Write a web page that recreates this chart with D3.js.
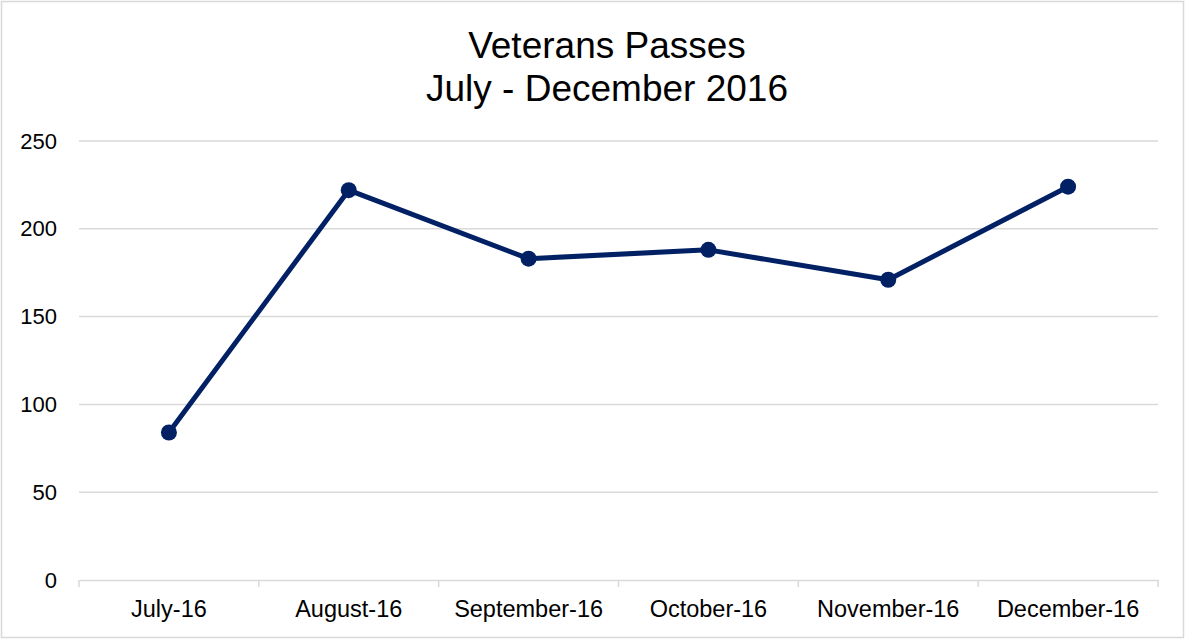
<!DOCTYPE html>
<html>
<head>
<meta charset="utf-8">
<script src="https://cdn.jsdelivr.net/npm/d3@7"></script>
<style>
  body { margin: 0; background: #fff; }
  text { font-family: "Liberation Sans", Arial, sans-serif; fill: #000; }
</style>
</head>
<body>
<script>
var months = ["July-16", "August-16", "September-16", "October-16", "November-16", "December-16"];
var passes = [84, 222, 183, 188, 171, 224];
var yTicks = [0, 50, 100, 150, 200, 250];
var titleLines = ["Veterans Passes", "July - December 2016"];

var W = 1185, H = 639;
var margin = {top: 141, right: 27, bottom: 59, left: 79},
    width = W - margin.left - margin.right,
    height = H - margin.top - margin.bottom;

var svg = d3.select("body").append("svg")
  .attr("width", W)
  .attr("height", H);

// chart border
svg.append("rect")
  .attr("x", 1.5).attr("y", 1.5)
  .attr("width", W - 3).attr("height", H - 3)
  .attr("fill", "#fff")
  .attr("stroke", "#d9d9d9")
  .attr("stroke-width", 1.5);

svg.append("text")
  .attr("text-anchor", "middle")
  .style("font-size", "37px")
  .selectAll("tspan")
  .data(titleLines)
  .enter().append("tspan")
  .attr("x", 607)
  .attr("y", function(d, i) { return 58 + i * 43; })
  .text(function(d) { return d; });

var g = svg.append("g")
  .attr("transform", "translate(" + margin.left + "," + margin.top + ")");

var x = d3.scaleBand().domain(months).range([0, width]);
var y = d3.scaleLinear().domain([0, 250]).range([height, 0]);

// gridlines
g.append("g")
  .selectAll("line")
  .data(yTicks.slice(1))
  .enter().append("line")
  .attr("x1", 0).attr("x2", width)
  .attr("y1", function(d) { return y(d); })
  .attr("y2", function(d) { return y(d); })
  .attr("stroke", "#d9d9d9")
  .attr("stroke-width", 1.5);

// y axis labels
g.append("g")
  .call(d3.axisLeft(y).tickValues(yTicks).tickSize(0).tickPadding(22))
  .call(function(a) { a.select(".domain").remove(); })
  .selectAll("text")
  .style("font-size", "22px");

// x axis
var xa = g.append("g")
  .attr("transform", "translate(0," + height + ")")
  .call(d3.axisBottom(x).tickSize(0).tickPadding(20));
xa.select(".domain").attr("stroke", "#d9d9d9").attr("stroke-width", 1.5);
xa.selectAll("text").style("font-size", "23.5px");
xa.selectAll(".sep")
  .data(d3.range(months.length + 1))
  .enter().append("line")
  .attr("x1", function(i) { return i * x.step(); })
  .attr("x2", function(i) { return i * x.step(); })
  .attr("y1", 0).attr("y2", 7)
  .attr("stroke", "#d9d9d9")
  .attr("stroke-width", 1.5);

var line = d3.line()
  .x(function(d, i) { return x(months[i]) + x.bandwidth() / 2; })
  .y(function(d) { return y(d); });

g.append("path")
  .datum(passes)
  .attr("fill", "none")
  .attr("stroke", "#022165")
  .attr("stroke-width", 5)
  .attr("stroke-linejoin", "round")
  .attr("d", line);

g.selectAll(".dot")
  .data(passes)
  .enter().append("circle")
  .attr("cx", function(d, i) { return x(months[i]) + x.bandwidth() / 2; })
  .attr("cy", function(d) { return y(d); })
  .attr("r", 8)
  .attr("fill", "#022165");
</script>
</body>
</html>
